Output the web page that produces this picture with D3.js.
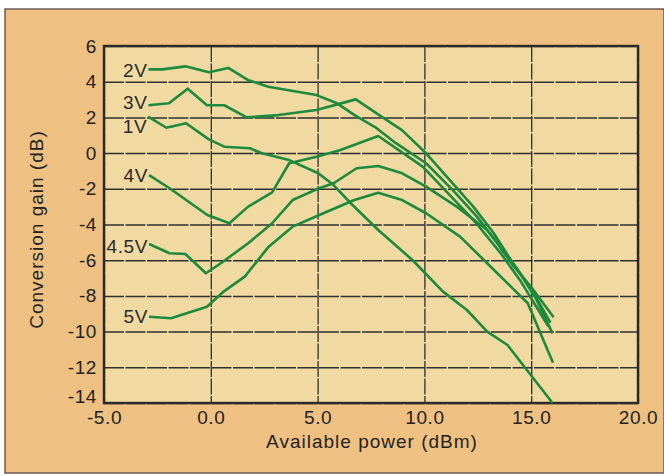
<!DOCTYPE html>
<html>
<head>
<meta charset="utf-8">
<script src="https://cdn.jsdelivr.net/npm/d3@7"></script>
<style>
    body { margin: 0; background: #ffffff; }
    svg { display: block; font-family: "Liberation Sans", Arial, sans-serif; }
    .tick-label { font-size: 19px; fill: #222; letter-spacing: 0.6px; }
    .axis-title { font-size: 19px; fill: #222; letter-spacing: 1px; }
    .series-label { font-size: 19px; fill: #2a2a2a; letter-spacing: 0.6px; }
</style>
</head>
<body>
<svg id="chart"></svg>
<script>
// axis ticks
const xTicks = [-5, 0, 5, 10, 15, 20];
const yTicks = [6, 4, 2, 0, -2, -4, -6, -8, -10, -12, -14];

// series: [available power dBm, conversion gain dB]
const seriesNames = ["2V", "3V", "1V", "4V", "4.5V", "5V"];

const gain2V = [
    [-2.92, 4.69], [-2.26, 4.69], [-1.19, 4.86], [-0.09, 4.53], [0.82, 4.77],
    [1.73, 4.10], [2.69, 3.72], [4.95, 3.25], [5.91, 2.79], [6.73, 2.13],
    [7.69, 1.46], [8.65, 0.57], [10.08, -0.57], [11.33, -2.07], [12.46, -3.56],
    [13.41, -5.05], [14.19, -6.36], [15.0, -7.5], [16.05, -9.2]
];
const gain3V = [
    [-2.92, 2.68], [-1.96, 2.79], [-1.08, 3.61], [-0.18, 2.68], [0.63, 2.68],
    [1.68, 2.0], [3.17, 2.13], [4.95, 2.41], [6.79, 3.01], [7.99, 2.04],
    [8.95, 1.29], [10.08, -0.01], [11.19, -1.51], [12.29, -3.0], [13.24, -4.48],
    [14.05, -5.99], [15.0, -7.6], [15.9, -9.5]
];
const gain1V = [
    [-2.93, 2.04], [-2.08, 1.42], [-1.16, 1.67], [-0.09, 0.77], [0.63, 0.36],
    [1.83, 0.27], [2.39, -0.01], [3.67, -0.39], [5.03, -1.13], [5.75, -1.79],
    [6.55, -2.81], [7.84, -4.31], [9.44, -5.99], [10.87, -7.76], [11.99, -8.79],
    [12.94, -10.0], [13.89, -10.75], [14.68, -11.97], [16.0, -14.0]
];
const gain4V = [
    [-2.89, -1.23], [-1.93, -1.97], [-0.16, -3.47], [0.87, -3.93], [1.75, -3.0],
    [2.87, -2.2], [3.67, -0.57], [4.95, -0.20], [6.07, 0.17], [7.84, 0.96],
    [8.8, 0.17], [9.92, -0.76], [11.19, -2.35], [12.38, -3.86], [13.57, -5.6],
    [14.52, -7.2], [15.8, -9.7]
];
const gain45V = [
    [-2.89, -5.09], [-1.93, -5.61], [-1.19, -5.65], [-0.23, -6.73], [0.47, -6.17],
    [1.75, -5.05], [2.87, -3.93], [3.83, -2.63], [4.95, -2.03], [5.75, -1.69],
    [6.83, -0.85], [7.84, -0.72], [8.96, -1.13], [10.08, -1.88], [11.51, -3.0],
    [12.94, -4.31], [13.57, -5.24], [14.37, -6.55], [15.2, -8.1], [16.0, -10.1]
];
const gain5V = [
    [-2.89, -9.17], [-1.86, -9.25], [-0.18, -8.61], [0.63, -7.73], [1.59, -6.92],
    [2.71, -5.24], [3.83, -4.12], [5.27, -3.37], [6.72, -2.63], [7.84, -2.22],
    [8.96, -2.63], [10.08, -3.37], [11.67, -4.68], [12.94, -6.17], [14.05, -7.48],
    [14.84, -8.41], [16.02, -11.74]
];

const seriesData = [gain2V, gain3V, gain1V, gain4V, gain45V, gain5V];

class GainChart {
    constructor(_config) {
        this.config = {
            parentElement: _config.parentElement,
            containerWidth: _config.containerWidth || 664,
            containerHeight: _config.containerHeight || 476,
            margin: _config.margin || { top: 46, right: 26, bottom: 73, left: 104 },
            lineColor: "#1b8a3c",
            gridColor: "#2f2f2f"
        };
        this.initVis();
    }

    initVis() {
        let vis = this;
        const m = vis.config.margin;

        vis.width = vis.config.containerWidth - m.left - m.right;
        vis.height = vis.config.containerHeight - m.top - m.bottom;

        vis.xScale = d3.scaleLinear().domain([-5, 20]).range([0, vis.width]);
        vis.yScale = d3.scaleLinear().domain([-14, 6]).range([vis.height, 0]);

        vis.svg = d3.select(vis.config.parentElement)
            .attr("width", vis.config.containerWidth)
            .attr("height", vis.config.containerHeight);

        // page panel (scanned orange card)
        vis.svg.append("rect")
            .attr("x", 5).attr("y", 9)
            .attr("width", vis.config.containerWidth - 5)
            .attr("height", vis.config.containerHeight - 12)
            .attr("fill", "#eec081")
            .attr("stroke", "#6d5a55")
            .attr("stroke-width", 1.5);

        vis.chart = vis.svg.append("g")
            .attr("transform", `translate(${m.left},${m.top})`);

        vis.chart.append("rect")
            .attr("width", vis.width)
            .attr("height", vis.height)
            .attr("fill", "#f1d9a2");

        // grid
        vis.chart.append("g")
            .attr("class", "grid x-grid")
            .call(d3.axisBottom(vis.xScale).tickValues(xTicks).tickSize(vis.height).tickFormat(""))
            .call(g => g.select(".domain").remove())
            .selectAll("line")
            .attr("stroke", vis.config.gridColor)
            .attr("stroke-width", 1.3)
            .attr("stroke-dasharray", "16,1.5");

        vis.chart.append("g")
            .attr("class", "grid y-grid")
            .call(d3.axisLeft(vis.yScale).tickValues(yTicks).tickSize(-vis.width).tickFormat(""))
            .call(g => g.select(".domain").remove())
            .selectAll("line")
            .attr("stroke", vis.config.gridColor)
            .attr("stroke-width", 1.5)
            .attr("stroke-dasharray", "20,1.5");

        // frame
        vis.chart.append("rect")
            .attr("width", vis.width)
            .attr("height", vis.height)
            .attr("fill", "none")
            .attr("stroke", "#2a2a2a")
            .attr("stroke-width", 2.4);

        // tick labels (plain hyphen minus, like the original)
        vis.xAxisG = vis.chart.append("g")
            .attr("transform", `translate(0,${vis.height})`)
            .call(d3.axisBottom(vis.xScale).tickValues(xTicks).tickSize(0).tickPadding(8).tickFormat(d => d.toFixed(1)))
            .call(g => g.select(".domain").remove());

        vis.yAxisG = vis.chart.append("g")
            .call(d3.axisLeft(vis.yScale).tickValues(yTicks).tickSize(0).tickPadding(7).tickFormat(d => String(d)))
            .call(g => g.select(".domain").remove());

        vis.svg.selectAll(".tick text")
            .attr("class", "tick-label")
            .attr("font-family", null)
            .attr("font-size", null)
            .attr("fill", null);

        // bottom-left "-14" sits a little higher than the rest
        vis.yAxisG.selectAll(".tick text")
            .filter(d => d === -14)
            .attr("dy", "-0.05em");

        vis.chart.append("text")
            .attr("class", "axis-title")
            .attr("x", vis.width / 2 + 1)
            .attr("y", vis.height + 45)
            .attr("text-anchor", "middle")
            .text("Available power (dBm)");

        vis.chart.append("text")
            .attr("class", "axis-title")
            .attr("transform", `translate(${-61},${vis.height / 2 + 5}) rotate(-90)`)
            .attr("text-anchor", "middle")
            .text("Conversion gain (dB)");

        vis.line = d3.line()
            .x(d => vis.xScale(d[0]))
            .y(d => vis.yScale(d[1]));

        vis.renderVis();
    }

    renderVis() {
        let vis = this;

        vis.chart.selectAll(".gain-line")
            .data(seriesData)
            .join("path")
            .attr("class", "gain-line")
            .attr("d", vis.line)
            .attr("fill", "none")
            .attr("stroke", vis.config.lineColor)
            .attr("stroke-width", 2.6)
            .attr("stroke-linejoin", "round");

        // labels at the left end of each curve; 1V hangs below its start, 3V sits a bit higher
        const labelDy = { "2V": 8, "3V": 4, "1V": 16, "4V": 7, "4.5V": 9, "5V": 6 };

        vis.chart.selectAll(".series-label")
            .data(seriesNames)
            .join("text")
            .attr("class", "series-label")
            .attr("x", (d, i) => vis.xScale(seriesData[i][0][0]) - 1)
            .attr("y", (d, i) => vis.yScale(seriesData[i][0][1]))
            .attr("dy", d => labelDy[d])
            .attr("text-anchor", "end")
            .text(d => d);
    }
}

const chart = new GainChart({ parentElement: "#chart" });
</script>
</body>
</html>
